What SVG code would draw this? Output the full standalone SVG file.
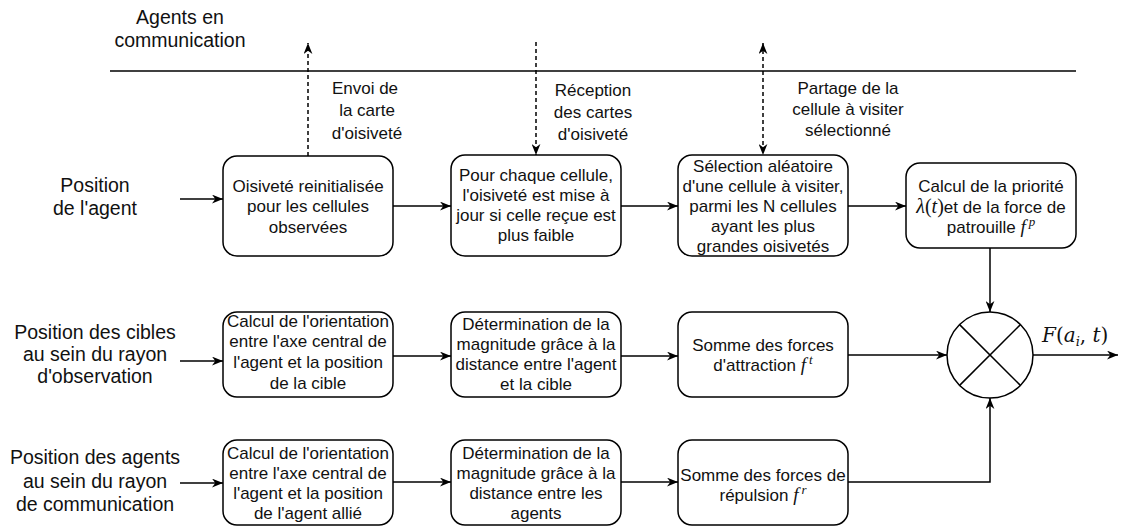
<svg xmlns="http://www.w3.org/2000/svg" width="1127" height="528" viewBox="0 0 1127 528">
  <defs>
    <marker id="arrow" viewBox="0 0 10 8" markerWidth="11" markerHeight="9" refX="10" refY="4" orient="auto-start-reverse" markerUnits="userSpaceOnUse">
      <path d="M0,0 L10,4 L0,8 L3,4 Z" fill="#000"/>
    </marker>
    <style>
      .box { fill: #fff; stroke: #000; stroke-width: 1.5; }
      .t { font-family: "Liberation Sans", Arial, sans-serif; font-size: 17px; fill: #111; text-anchor: middle; }
      .lbl { font-family: "Liberation Sans", Arial, sans-serif; font-size: 19.5px; fill: #111; text-anchor: middle; }
      .m { font-family: "Liberation Serif", "DejaVu Serif", serif; font-style: italic; }
      .mu { font-family: "Liberation Serif", "DejaVu Serif", serif; font-style: normal; }
      .dm { font-family: "DejaVu Serif", serif; font-style: italic; }
      .dmu { font-family: "DejaVu Serif", serif; font-style: normal; }
      .edge { fill: none; stroke: #000; stroke-width: 1.5; }
      .dash { fill: none; stroke: #000; stroke-width: 1.5; stroke-dasharray: 4 3; }
    </style>
  </defs>
  <rect width="1127" height="528" fill="#fff"/>

  <!-- communication layer -->
  <g id="comm-layer">
    <text class="lbl" x="180" y="24">Agents en</text>
    <text class="lbl" x="180" y="47">communication</text>
    <line x1="110" y1="71" x2="1076" y2="71" stroke="#000" stroke-width="1.5"/>
  </g>

  <!-- input labels -->
  <g id="in-agent">
    <text class="lbl" x="95" y="192">Position</text>
    <text class="lbl" x="95" y="215">de l'agent</text>
  </g>
  <g id="in-targets">
    <text class="lbl" x="95" y="339">Position des cibles</text>
    <text class="lbl" x="95" y="361">au sein du rayon</text>
    <text class="lbl" x="95" y="383">d'observation</text>
  </g>
  <g id="in-agents">
    <text class="lbl" x="95" y="464">Position des agents</text>
    <text class="lbl" x="95" y="488">au sein du rayon</text>
    <text class="lbl" x="95" y="511">de communication</text>
  </g>

  <!-- row 1: patrol -->
  <g id="reset">
    <rect class="box" x="223" y="156" width="170" height="100" rx="14"/>
    <text class="t" x="308" y="192">Oisiveté reinitialisée</text>
    <text class="t" x="308" y="212">pour les cellules</text>
    <text class="t" x="308" y="233">observées</text>
  </g>
  <g id="update">
    <rect class="box" x="451" y="155" width="170" height="101" rx="14"/>
    <text class="t" x="536" y="181">Pour chaque cellule,</text>
    <text class="t" x="536" y="201">l'oisiveté est mise à</text>
    <text class="t" x="536" y="221">jour si celle reçue est</text>
    <text class="t" x="536" y="241">plus faible</text>
  </g>
  <g id="select">
    <rect class="box" x="678" y="155" width="170" height="101" rx="14"/>
    <text class="t" x="763" y="172">Sélection aléatoire</text>
    <text class="t" x="763" y="192">d'une cellule à visiter,</text>
    <text class="t" x="763" y="212">parmi les N cellules</text>
    <text class="t" x="763" y="232">ayant les plus</text>
    <text class="t" x="763" y="252">grandes oisivetés</text>
  </g>
  <g id="priority">
    <rect class="box" x="906" y="163" width="170" height="85" rx="14"/>
    <text class="t" x="991" y="192">Calcul de la priorité</text>
    <text class="t" x="991" y="213"><tspan class="m" font-size="20">λ</tspan><tspan class="mu" font-size="20">(</tspan><tspan class="m" font-size="20">t</tspan><tspan class="mu" font-size="20">)</tspan>et de la force de</text>
    <text class="t" x="991" y="233">patrouille <tspan class="m" font-size="19">f</tspan><tspan class="m" font-size="13" dx="3" dy="-7">p</tspan></text>
  </g>

  <!-- row 2: attraction -->
  <g id="orient-target">
    <rect class="box" x="223" y="312" width="170" height="85" rx="14"/>
    <text class="t" x="308" y="327">Calcul de l'orientation</text>
    <text class="t" x="308" y="347">entre l'axe central de</text>
    <text class="t" x="308" y="368">l'agent et la position</text>
    <text class="t" x="308" y="389">de la cible</text>
  </g>
  <g id="magnitude-target">
    <rect class="box" x="451" y="312" width="170" height="85" rx="14"/>
    <text class="t" x="536" y="330">Détermination de la</text>
    <text class="t" x="536" y="350">magnitude grâce à la</text>
    <text class="t" x="536" y="370">distance entre l'agent</text>
    <text class="t" x="536" y="390">et la cible</text>
  </g>
  <g id="sum-attraction">
    <rect class="box" x="678" y="312" width="170" height="85" rx="14"/>
    <text class="t" x="763" y="351">Somme des forces</text>
    <text class="t" x="763" y="371">d'attraction <tspan class="m" font-size="19">f</tspan><tspan class="m" font-size="13" dx="3" dy="-7">t</tspan></text>
  </g>

  <!-- row 3: repulsion -->
  <g id="orient-ally">
    <rect class="box" x="223" y="440" width="170" height="85" rx="14"/>
    <text class="t" x="308" y="459">Calcul de l'orientation</text>
    <text class="t" x="308" y="479">entre l'axe central de</text>
    <text class="t" x="308" y="499">l'agent et la position</text>
    <text class="t" x="308" y="519">de l'agent allié</text>
  </g>
  <g id="magnitude-ally">
    <rect class="box" x="451" y="440" width="170" height="85" rx="14"/>
    <text class="t" x="536" y="459">Détermination de la</text>
    <text class="t" x="536" y="479">magnitude grâce à la</text>
    <text class="t" x="536" y="499">distance entre les</text>
    <text class="t" x="536" y="519">agents</text>
  </g>
  <g id="sum-repulsion">
    <rect class="box" x="678" y="440" width="170" height="85" rx="14"/>
    <text class="t" x="763" y="481">Somme des forces de</text>
    <text class="t" x="763" y="501">répulsion <tspan class="m" font-size="19">f</tspan><tspan class="m" font-size="13" dx="3" dy="-7">r</tspan></text>
  </g>

  <!-- summing junction -->
  <g id="sum">
    <circle cx="990" cy="355" r="43" fill="#fff" stroke="#000" stroke-width="1.5"/>
    <line x1="959.6" y1="324.6" x2="1020.4" y2="385.4" stroke="#000" stroke-width="1.5"/>
    <line x1="1020.4" y1="324.6" x2="959.6" y2="385.4" stroke="#000" stroke-width="1.5"/>
  </g>
  <g id="output-label">
    <text x="1042" y="342" font-size="20" fill="#111"><tspan class="dm">F</tspan><tspan class="dmu">(</tspan><tspan class="dm">a</tspan><tspan class="dm" font-size="13" dy="4">i</tspan><tspan class="dmu" dy="-4">, </tspan><tspan class="dm">t</tspan><tspan class="dmu">)</tspan></text>
  </g>

  <!-- annotations on the communication links -->
  <g id="send-label">
    <text class="t" x="365" y="94" font-size="16">Envoi de</text>
    <text class="t" x="367" y="116" font-size="18">la carte</text>
    <text class="t" x="367" y="139" font-size="18">d'oisiveté</text>
  </g>
  <g id="receive-label">
    <text class="t" x="593" y="96" font-size="18">Réception</text>
    <text class="t" x="593" y="118" font-size="18">des cartes</text>
    <text class="t" x="593" y="140" font-size="18">d'oisiveté</text>
  </g>
  <g id="share-label">
    <text class="t" x="848" y="94" font-size="18">Partage de la</text>
    <text class="t" x="848" y="115" font-size="16">cellule à visiter</text>
    <text class="t" x="848" y="136" font-size="16">sélectionné</text>
  </g>

  <!-- connectors -->
  <g id="connectors">
    <line class="dash" x1="308" y1="156" x2="308" y2="43" marker-end="url(#arrow)"/>
    <line class="dash" x1="536" y1="42" x2="536" y2="155" marker-end="url(#arrow)"/>
    <line class="dash" x1="763" y1="43" x2="763" y2="155" marker-start="url(#arrow)" marker-end="url(#arrow)"/>

    <line class="edge" x1="180" y1="199" x2="223" y2="199" marker-end="url(#arrow)"/>
    <line class="edge" x1="393" y1="206" x2="451" y2="206" marker-end="url(#arrow)"/>
    <line class="edge" x1="621" y1="206" x2="678" y2="206" marker-end="url(#arrow)"/>
    <line class="edge" x1="848" y1="206" x2="906" y2="206" marker-end="url(#arrow)"/>

    <line class="edge" x1="180" y1="361" x2="223" y2="361" marker-end="url(#arrow)"/>
    <line class="edge" x1="393" y1="356" x2="451" y2="356" marker-end="url(#arrow)"/>
    <line class="edge" x1="621" y1="356" x2="678" y2="356" marker-end="url(#arrow)"/>

    <line class="edge" x1="180" y1="483" x2="223" y2="483" marker-end="url(#arrow)"/>
    <line class="edge" x1="393" y1="482" x2="451" y2="482" marker-end="url(#arrow)"/>
    <line class="edge" x1="621" y1="482" x2="678" y2="482" marker-end="url(#arrow)"/>

    <line class="edge" x1="990" y1="248" x2="990" y2="312" marker-end="url(#arrow)"/>
    <line class="edge" x1="848" y1="355" x2="947" y2="355" marker-end="url(#arrow)"/>
    <polyline class="edge" points="848,482 990,482 990,398" marker-end="url(#arrow)"/>
    <line class="edge" x1="1033" y1="355" x2="1118" y2="355" marker-end="url(#arrow)"/>
  </g>
</svg>
